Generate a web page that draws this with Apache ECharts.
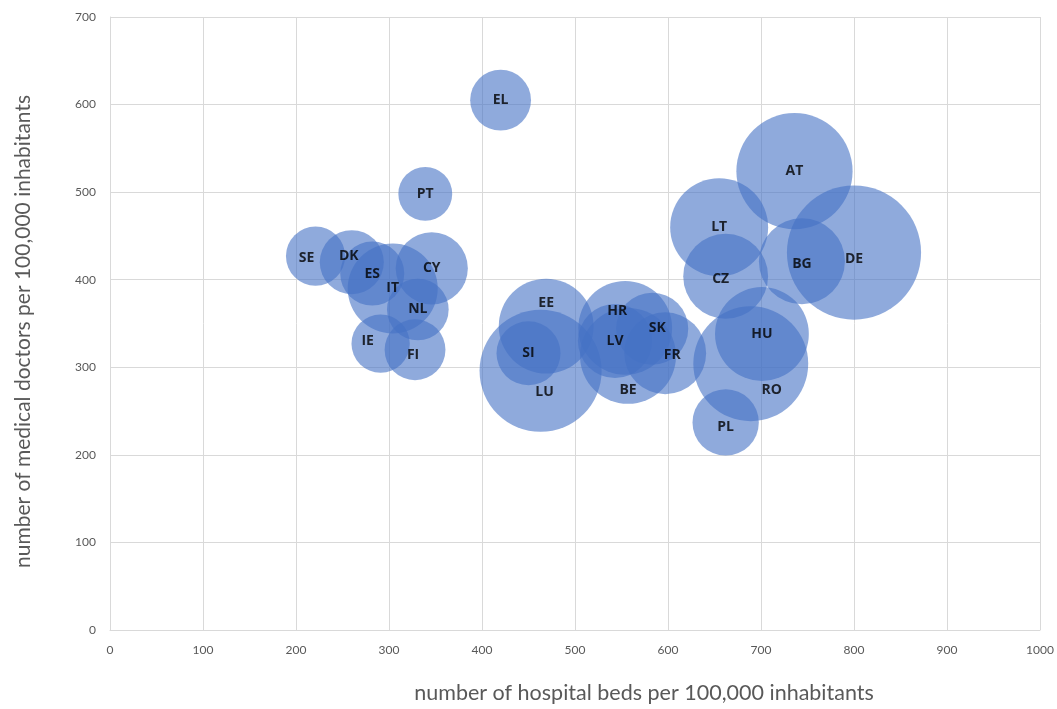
<!DOCTYPE html>
<html>
<head>
<meta charset="utf-8">
<script src="https://cdn.jsdelivr.net/npm/echarts@6.0.0/dist/echarts.min.js"></script>
<style>
  html, body { margin: 0; padding: 0; background: #fff; }
  #chart { width: 1057px; height: 709px; }
</style>
</head>
<body>
<div id="chart"></div>
<script>
// Countries (EU member states) and their indicators
const countries = ['SE','DK','ES','IT','CY','NL','IE','FI','EL','PT','EE','SI','LU',
                   'HR','LV','SK','FR','BE','LT','CZ','AT','BG','DE','HU','RO','PL'];
// hospital beds per 100,000 inhabitants
const beds = [221, 260, 282, 304, 346, 331, 291, 328, 420, 339, 469, 450, 463,
              554, 543, 583, 597, 557, 655, 662, 736, 744, 800, 701, 689, 662];
// medical doctors per 100,000 inhabitants
const doctors = [427, 420, 407, 390, 413, 366, 327, 320, 605, 498, 347, 316, 296,
                 345, 330, 344, 316, 313, 460, 404, 524, 421, 431, 338, 304, 237];
// bubble size variable
const bubbleSize = [35, 41, 41, 81, 52, 38, 34, 37, 37, 29, 90, 41, 149,
                    88, 55, 52, 67, 92, 96, 72, 135, 74, 180, 88, 132, 44];
// axis tick values
const xTicks = [0, 100, 200, 300, 400, 500, 600, 700, 800, 900, 1000];
const yTicks = [0, 100, 200, 300, 400, 500, 600, 700];

// label nudges (pixels) for crowded bubbles
const labelNudge = {
  RO: [21, 26], EE: [0, -23], LU: [4, 21], BE: [0, 34], HR: [-8, -17],
  SE: [-9, 2], IE: [-13, -3], DK: [-3, -6], CZ: [-5, 3], FR: [7, 2],
  SK: [5, -1], FI: [-2, 5], DE: [0, 6], BG: [0, 3], PL: [0, 5]
};

const points = countries.map((c, i) => ({
  name: c,
  value: [beds[i], doctors[i], bubbleSize[i]],
  label: { offset: labelNudge[c] || [0, 0] }
}));

const font = 'Lato, "Open Sans", sans-serif';
const chart = echarts.init(document.getElementById('chart'), null, { renderer: 'canvas' });
chart.setOption({
  animation: false,
  backgroundColor: '#ffffff',
  grid: { left: 110, right: 17, top: 17, bottom: 75 },
  xAxis: {
    type: 'value',
    min: xTicks[0], max: xTicks[xTicks.length - 1], interval: 100,
    name: 'number of hospital beds per 100,000 inhabitants',
    nameLocation: 'middle',
    nameGap: 52,
    nameTextStyle: { fontFamily: font, fontSize: 21.5, color: '#595959', padding: [0, 0, 0, 138] },
    axisLine: { show: true, lineStyle: { color: '#d9d9d9' } },
    axisTick: { show: false },
    splitLine: { show: true, lineStyle: { color: '#d9d9d9', width: 1 } },
    axisLabel: { fontFamily: font, fontSize: 12, color: '#595959', margin: 14, formatter: v => String(v) }
  },
  yAxis: {
    type: 'value',
    min: yTicks[0], max: yTicks[yTicks.length - 1], interval: 100,
    name: 'number of medical doctors per 100,000 inhabitants',
    nameLocation: 'middle',
    nameGap: 76,
    nameTextStyle: { fontFamily: font, fontSize: 21, color: '#595959', padding: [0, 16, 0, 0] },
    axisLine: { show: true, lineStyle: { color: '#d9d9d9' } },
    axisTick: { show: false },
    splitLine: { show: true, lineStyle: { color: '#d9d9d9', width: 1 } },
    axisLabel: { fontFamily: font, fontSize: 12, color: '#595959', margin: 14, formatter: v => String(v) }
  },
  series: [{
    type: 'scatter',
    data: points,
    symbolSize: d => Math.sqrt(d[2]) * 10,
    itemStyle: { color: 'rgba(68,114,196,0.75)' },
    label: {
      show: true,
      position: 'inside',
      formatter: p => p.name,
      fontFamily: '"Open Sans", sans-serif',
      fontWeight: 'bold',
      fontSize: 14,
      color: '#000'
    },
    emphasis: { disabled: true }
  }]
});
</script>
</body>
</html>
